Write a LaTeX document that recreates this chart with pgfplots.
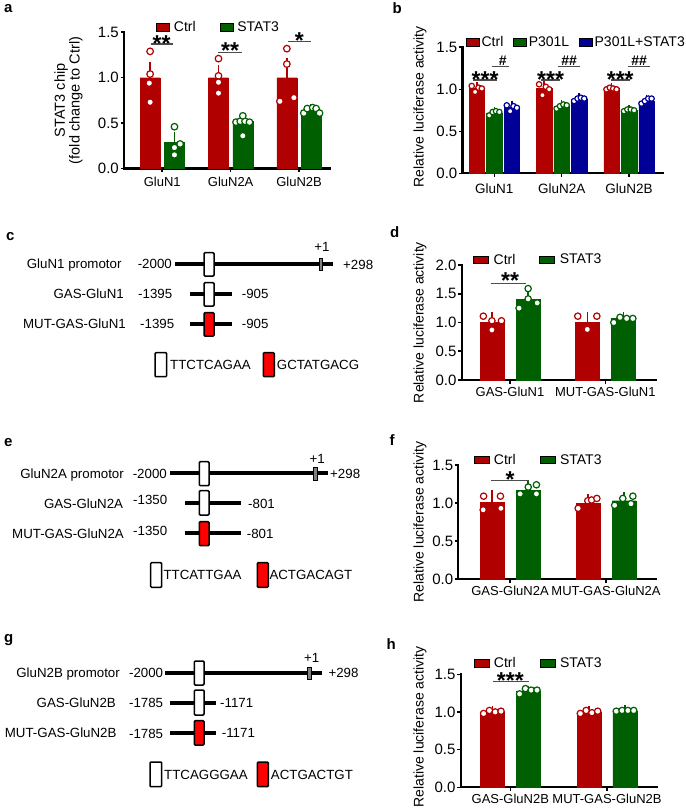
\documentclass[border=0pt]{standalone}
\usepackage{pgfplots}
\pgfplotsset{compat=1.18}
\usepackage{fontspec}
\setmainfont{Liberation Sans}
\newcommand\fsz[1]{\fontsize{#1}{#1}\selectfont}
\definecolor{cr}{RGB}{176,0,0}
\definecolor{cg}{RGB}{0,95,0}
\definecolor{cb}{RGB}{0,0,150}
\pgfplotsset{
  pan/.style={
    scale only axis, clip=false, anchor=south west,
    axis x line*=bottom, axis y line*=left,
    axis line style={line width=2.2pt, line cap=rect},
    tick style={line width=1.6pt, black},
    major tick length=3.5pt, tick align=outside,
    ymin=0, ytick distance=0.5,
    /pgf/number format/assume math mode=true,
    yticklabel style={font=\fsz{15}, inner sep=1.5pt, /pgf/number format/fixed, /pgf/number format/fixed zerofill, /pgf/number format/precision=1},
    xticklabel style={font=\fsz{13}},
    legend style={draw=none, fill=none, inner sep=0pt, anchor=west, font=\fsz{14}, nodes={inner sep=0pt}},
    legend columns=-1,
  },
  bars/.style n args={2}{fill=#1, draw=#1, line width=0.3pt, ybar, bar width=#2, bar shift=0pt, forget plot,
    error bars/.cd, y dir=plus, y explicit, error bar style={draw=#1, line width=1.5pt}, error mark options={draw=#1, line width=1.5pt, mark size=5pt}},
  pts/.style n args={2}{only marks, mark=*, mark size=#2, mark options={fill=white, draw=#1, line width=1.2pt}, forget plot},
}
\tikzset{
  dline/.style={line width=4pt},
  wbox/.style={draw=black, line width=1.5pt, fill=white, rounded corners=1pt},
  rbox/.style={draw=black, line width=1.5pt, fill=red, rounded corners=1pt},
  gbox/.style={draw=black, line width=1pt, fill=gray},
  lab/.style={inner sep=0pt, font=\fsz{13.3}, text height=9.5pt, text depth=0pt},
  sig/.style={line width=1.2pt, black!70},
  star/.style={font=\bfseries\fsz{23}, inner sep=0pt, anchor=base, yshift=-12.9pt},
  hash/.style={font=\bfseries\fsz{14}, inner sep=0pt, anchor=base, yshift=-5pt},
  plab/.style={anchor=base west, inner sep=0pt, font=\bfseries\fsz{15}},
  ylab/.style={rotate=90, inner sep=0pt, font=\fsz{14}, anchor=center},
}
\begin{document}
\begin{tikzpicture}[x=1pt,y=1pt]
\path (0,0) rectangle (685,-810);
% panel letters
\node[plab] at (4,-12.5) {a};
\node[plab] at (392.5,-13.3) {b};
\node[plab] at (6,-240.7) {c};
\node[plab] at (390,-237.3) {d};
\node[plab] at (4,-446.7) {e};
\node[plab] at (389.5,-445) {f};
\node[plab] at (4,-642) {g};
\node[plab] at (386.5,-649.3) {h};
% y axis titles
\node[ylab, align=center, font=\fontsize{14.5}{13.5}\selectfont] at (68.5,-100.4) {STAT3 chip\\(fold change to Ctrl)};
\node[ylab] at (420,-106.7) {Relative luciferase activity};
\node[ylab] at (420,-322.5) {Relative luciferase activity};
\node[ylab] at (420,-522) {Relative luciferase activity};
\node[ylab] at (420,-727) {Relative luciferase activity};

% ---------------- panel a
\begin{axis}[pan, at={(124pt,-168.5pt)}, width=206pt, height=136.2pt,
  xmin=-0.56, xmax=2.453, ymax=1.5,
  xtick={0,1,2}, xticklabels={GluN1,GluN2A,GluN2B},
  xticklabel style={yshift=-2pt},
  legend style={at={(axis description cs:0.1553,1.036)}, /tikz/every odd column/.append style={column sep=4pt}, /tikz/every even column/.append style={column sep=24pt}},
  legend image code/.code={\fill[#1] (0pt,-3.7pt) rectangle (13.3pt,3.7pt);},
]
\addlegendimage{fill=cr}\addlegendentry{Ctrl}
\addlegendimage{fill=cg}\addlegendentry{STAT3}
\addplot[bars={cr}{20pt}] table[x=x,y=y,y error=e,row sep=\\]{
x y e\\ -0.178 1.0 0.12\\ 0.822 1.0 0.085\\ 1.822 1.0 0.165\\};
\addplot[bars={cg}{20pt}] table[x=x,y=y,y error=e,row sep=\\]{
x y e\\ 0.178 0.285 0.065\\ 1.178 0.52 0.035\\ 2.178 0.645 0.015\\};
\addplot[pts={cr}{3.3pt}] coordinates {
(-0.178,1.29) (-0.178,1.04) (-0.19,0.94) (-0.178,0.73)
(0.822,1.21) (0.822,1.02) (0.822,0.95) (0.822,0.83)
(1.72,0.74) (1.822,1.32) (1.822,1.15) (1.925,0.78)};
\addplot[pts={cg}{3.3pt}] coordinates {
(0.178,0.46) (0.261,0.27) (0.178,0.23) (0.178,0.15)
(1.078,0.51) (1.14,0.52) (1.21,0.52) (1.275,0.51) (1.178,0.58) (1.178,0.36)
(2.07,0.61) (2.12,0.66) (2.2,0.67) (2.25,0.66) (2.3,0.61)};
\draw[sig] (axis cs:-0.17,1.371) -- (axis cs:0.152,1.371);
\node[star] at (axis cs:-0.009,1.434) {**};
\draw[sig] (axis cs:0.822,1.28) -- (axis cs:1.164,1.28);
\node[star] at (axis cs:0.993,1.349) {**};
\draw[sig] (axis cs:1.835,1.397) -- (axis cs:2.176,1.397);
\node[star] at (axis cs:2.005,1.459) {*};
\end{axis}

% ---------------- panel b
\begin{axis}[pan, at={(462.5pt,-173.4pt)}, width=200.8pt, height=126.1pt,
  xmin=-0.472, xmax=2.509, ymax=1.5,
  xtick={0,1,2}, xticklabels={GluN1,GluN2A,GluN2B},
  xticklabel style={yshift=-3.5pt, font=\fsz{13.5}},
  legend style={at={(axis description cs:0.0174,1.0396)}, /tikz/every odd column/.append style={column sep=2pt}, /tikz/every even column/.append style={column sep=10pt}},
  legend image code/.code={\fill[#1] (0pt,-4pt) rectangle (13pt,4pt);},
]
\addlegendimage{fill=cr}\addlegendentry{Ctrl}
\addlegendimage{fill=cg}\addlegendentry{P301L}
\addlegendimage{fill=cb}\addlegendentry{P301L+STAT3}
\addplot[bars={cr}{15.5pt}] table[x=x,y=y,y error=e,row sep=\\]{
x y e\\ -0.26 1.01 0.015\\ 0.74 1.01 0.025\\ 1.74 1.01 0.01\\};
\addplot[bars={cg}{15.5pt}] table[x=x,y=y,y error=e,row sep=\\]{
x y e\\ 0 0.72 0.012\\ 1 0.80 0.012\\ 2 0.75 0.005\\};
\addplot[bars={cb}{15.5pt}] table[x=x,y=y,y error=e,row sep=\\]{
x y e\\ 0.26 0.79 0.015\\ 1.26 0.885 0.01\\ 2.26 0.86 0.015\\};
\addplot[pts={cr}{2.7pt}] coordinates {
(-0.335,1.04) (-0.285,0.97) (-0.235,1.02) (-0.185,1.01)
(0.665,1.06) (0.715,0.93) (0.765,1.03) (0.815,1.0)
(1.665,1.0) (1.715,1.02) (1.765,1.01) (1.815,1.0)};
\addplot[pts={cg}{2.7pt}] coordinates {
(-0.075,0.69) (-0.025,0.73) (0.025,0.74) (0.075,0.73)
(0.925,0.77) (0.975,0.8) (1.025,0.82) (1.075,0.81)
(1.925,0.74) (1.975,0.76) (2.025,0.76) (2.075,0.75)};
\addplot[pts={cb}{2.7pt}] coordinates {
(0.185,0.81) (0.235,0.74) (0.285,0.80) (0.335,0.78)
(1.185,0.86) (1.235,0.89) (1.285,0.90) (1.335,0.89)
(2.185,0.83) (2.235,0.86) (2.285,0.89) (2.335,0.89)};
\draw[sig] (axis cs:-0.31,1.11) -- (axis cs:0.036,1.11);
\node[star] at (axis cs:-0.137,1.18) {***};
\draw[sig] (axis cs:0.70,1.11) -- (axis cs:0.97,1.11);
\node[star] at (axis cs:0.835,1.18) {***};
\draw[sig] (axis cs:1.73,1.11) -- (axis cs:2.01,1.11);
\node[star] at (axis cs:1.87,1.18) {***};
\draw[sig] (axis cs:-0.04,1.27) -- (axis cs:0.22,1.27);
\node[hash] at (axis cs:0.125,1.34) {\#};
\draw[sig] (axis cs:0.95,1.27) -- (axis cs:1.27,1.27);
\node[hash] at (axis cs:1.11,1.34) {\#\#};
\draw[sig] (axis cs:1.99,1.27) -- (axis cs:2.31,1.27);
\node[hash] at (axis cs:2.15,1.34) {\#\#};
\end{axis}

% ---------------- panel d
\begin{axis}[pan, at={(461.7pt,-380pt)}, width=194.3pt, height=115pt,
  xmin=-0.507, xmax=1.532, ymax=2.0,
  xtick={0,1}, xticklabels={GAS-GluN1,MUT-GAS-GluN1},
  legend style={at={(axis description cs:0.0585,1.046)}, /tikz/every odd column/.append style={column sep=5pt}, /tikz/every even column/.append style={column sep=24pt}},
  legend image code/.code={\fill[#1] (0pt,-3.7pt) rectangle (15pt,3.7pt);},
]
\addlegendimage{fill=cr}\addlegendentry{Ctrl}
\addlegendimage{fill=cg}\addlegendentry{STAT3}
\addplot[bars={cr}{24pt}] table[x=x,y=y,y error=e,row sep=\\]{
x y e\\ -0.189 1.0 0.1\\ 0.811 1.0 0.1\\};
\addplot[bars={cg}{24pt}] table[x=x,y=y,y error=e,row sep=\\]{
x y e\\ 0.189 1.40 0.15\\ 1.189 1.07 0.025\\};
\addplot[pts={cr}{3.2pt}] coordinates {
(-0.28,1.11) (-0.19,1.03) (-0.09,1.03) (-0.19,0.87)
(0.711,1.11) (0.911,1.11) (0.811,0.90) (0.811,0.88)};
\addplot[pts={cg}{3.2pt}] coordinates {
(0.19,1.59) (0.19,1.41) (0.095,1.25) (0.285,1.34)
(1.089,1.0) (1.154,1.09) (1.224,1.07) (1.289,1.07)};
\draw[sig] (axis cs:-0.2,1.68) -- (axis cs:0.168,1.68);
\node[star] at (axis cs:0.0,1.81) {**};
\end{axis}

% ---------------- panel f
\begin{axis}[pan, at={(458.3pt,-579pt)}, width=197.7pt, height=114pt,
  xmin=-0.539, xmax=1.521, ymax=1.5,
  xtick={0,1}, xticklabels={GAS-GluN2A,MUT-GAS-GluN2A},
  legend style={at={(axis description cs:0.0759,1.044)}, /tikz/every odd column/.append style={column sep=5pt}, /tikz/every even column/.append style={column sep=24pt}},
  legend image code/.code={\fill[#1] (0pt,-3.7pt) rectangle (15pt,3.7pt);},
]
\addlegendimage{fill=cr}\addlegendentry{Ctrl}
\addlegendimage{fill=cg}\addlegendentry{STAT3}
\addplot[bars={cr}{23.5pt}] table[x=x,y=y,y error=e,row sep=\\]{
x y e\\ -0.1875 1.005 0.1\\ 0.8125 1.0 0.05\\};
\addplot[bars={cg}{23.5pt}] table[x=x,y=y,y error=e,row sep=\\]{
x y e\\ 0.1875 1.17 0.07\\ 1.1875 1.03 0.045\\};
\addplot[pts={cr}{3.2pt}] coordinates {
(-0.275,1.09) (-0.1,1.09) (-0.28,0.91) (-0.095,0.93)
(0.71,0.93) (0.81,1.03) (0.85,1.04) (0.905,1.06)};
\addplot[pts={cg}{3.2pt}] coordinates {
(0.105,1.12) (0.19,1.21) (0.275,1.24) (0.275,1.12)
(1.09,0.97) (1.175,1.06) (1.28,1.09) (1.26,0.99)};
\draw[sig] (axis cs:-0.2,1.293) -- (axis cs:0.2,1.293);
\node[star] at (axis cs:0.0,1.37) {*};
\end{axis}

% ---------------- panel h
\begin{axis}[pan, at={(460.7pt,-787.3pt)}, width=196pt, height=113pt,
  xmin=-0.513, xmax=1.514, ymax=1.5,
  xtick={0,1}, xticklabels={GAS-GluN2B,MUT-GAS-GluN2B},
  legend style={at={(axis description cs:0.0643,1.1)}, /tikz/every odd column/.append style={column sep=5pt}, /tikz/every even column/.append style={column sep=24pt}},
  legend image code/.code={\fill[#1] (0pt,-3.7pt) rectangle (15pt,3.7pt);},
]
\addlegendimage{fill=cr}\addlegendentry{Ctrl}
\addlegendimage{fill=cg}\addlegendentry{STAT3}
\addplot[bars={cr}{24pt}] table[x=x,y=y,y error=e,row sep=\\]{
x y e\\ -0.186 1.0 0.01\\ 0.814 1.0 0.01\\};
\addplot[bars={cg}{24pt}] table[x=x,y=y,y error=e,row sep=\\]{
x y e\\ 0.186 1.27 0.015\\ 1.186 1.015 0.005\\};
\addplot[pts={cr}{3.2pt}] coordinates {
(-0.276,0.98) (-0.216,1.02) (-0.156,1.0) (-0.096,1.01)
(0.724,0.98) (0.784,1.02) (0.844,0.99) (0.904,1.01)};
\addplot[pts={cg}{3.2pt}] coordinates {
(0.096,1.24) (0.156,1.31) (0.216,1.29) (0.276,1.29)
(1.096,1.01) (1.156,1.02) (1.216,1.02) (1.276,1.02)};
\draw[sig] (axis cs:-0.18,1.40) -- (axis cs:0.19,1.40);
\node[star] at (axis cs:0.0,1.48) {***};
\end{axis}

% ---------------- panel c diagram
\draw[dline] (175,-264) -- (333,-264);
\draw[wbox] (204,-252.7) rectangle (214,-276);
\draw[gbox] (319,-258) rectangle (322.7,-270.7);
\node[lab, anchor=east] at (121.7,-264) {GluN1 promotor};
\node[lab, anchor=east] at (172,-264) {-2000};
\node[lab] at (322,-247) {+1};
\node[lab, anchor=west] at (343,-265) {+298};
\draw[dline] (190,-294) -- (232.3,-294);
\draw[wbox] (204,-282.7) rectangle (214,-306);
\node[lab, anchor=east] at (124,-294) {GAS-GluN1};
\node[lab, anchor=west] at (138,-294) {-1395};
\node[lab, anchor=west] at (241.7,-294) {-905};
\draw[dline] (190,-324) -- (232.3,-324);
\draw[rbox] (204,-312.7) rectangle (214,-336);
\node[lab, anchor=east] at (126,-324) {MUT-GAS-GluN1};
\node[lab, anchor=west] at (140,-324) {-1395};
\node[lab, anchor=west] at (241.7,-324) {-905};
\draw[wbox] (155,-352.7) rectangle (166.7,-376.7);
\node[lab, anchor=west] at (170,-364.7) {TTCTCAGAA};
\draw[rbox] (263.3,-352.7) rectangle (274.3,-376.7);
\node[lab, anchor=west] at (276.7,-364.7) {GCTATGACG};

% ---------------- panel e diagram
\draw[dline] (170,-473.3) -- (328,-473.3);
\draw[wbox] (199.3,-461.7) rectangle (209,-485.7);
\draw[gbox] (313.3,-467.7) rectangle (317.3,-480);
\node[lab, anchor=east] at (124,-473.3) {GluN2A promotor};
\node[lab, anchor=east] at (167,-473.3) {-2000};
\node[lab] at (317.3,-458.3) {+1};
\node[lab, anchor=west] at (330,-473.3) {+298};
\draw[dline] (185,-503.3) -- (240.7,-503.3);
\draw[wbox] (199.3,-490.7) rectangle (209,-515);
\node[lab, anchor=east] at (123.3,-503.3) {GAS-GluN2A};
\node[lab, anchor=west] at (133,-500) {-1350};
\node[lab, anchor=west] at (248,-503.3) {-801};
\draw[dline] (185,-533.3) -- (240.7,-533.3);
\draw[rbox] (199.3,-521.7) rectangle (209,-545.7);
\node[lab, anchor=east] at (124,-533.3) {MUT-GAS-GluN2A};
\node[lab, anchor=west] at (133,-530.7) {-1350};
\node[lab, anchor=west] at (246.7,-533.3) {-801};
\draw[wbox] (150.7,-562.7) rectangle (161.7,-587.3);
\node[lab, anchor=west] at (163.3,-575) {TTCATTGAA};
\draw[rbox] (257.3,-562.7) rectangle (268.3,-587.3);
\node[lab, anchor=west] at (269.3,-575) {ACTGACAGT};

% ---------------- panel g diagram
\draw[dline] (165,-672.7) -- (321.7,-672.7);
\draw[wbox] (194.3,-661) rectangle (204,-685);
\draw[gbox] (307.3,-667.7) rectangle (311.7,-679.3);
\node[lab, anchor=east] at (120,-672.7) {GluN2B promotor};
\node[lab, anchor=east] at (163.3,-672.7) {-2000};
\node[lab] at (311.7,-657.3) {+1};
\node[lab, anchor=west] at (328.3,-672.7) {+298};
\draw[dline] (170,-702.7) -- (216,-702.7);
\draw[wbox] (194.3,-690) rectangle (204,-715);
\node[lab, anchor=east] at (116,-702.7) {GAS-GluN2B};
\node[lab, anchor=east] at (163.3,-702.7) {-1785};
\node[lab, anchor=west] at (220,-702.7) {-1171};
\draw[dline] (170,-732.7) -- (216,-732.7);
\draw[rbox] (194.3,-720.7) rectangle (204,-745);
\node[lab, anchor=east] at (116.7,-732.7) {MUT-GAS-GluN2B};
\node[lab, anchor=east] at (163.3,-733.3) {-1785};
\node[lab, anchor=west] at (221.7,-732.7) {-1171};
\draw[wbox] (150,-762) rectangle (161.7,-786.7);
\node[lab, anchor=west] at (164,-774.3) {TTCAGGGAA};
\draw[rbox] (257.3,-762) rectangle (268.3,-786.7);
\node[lab, anchor=west] at (270.7,-774.3) {ACTGACTGT};
\end{tikzpicture}
\end{document}
